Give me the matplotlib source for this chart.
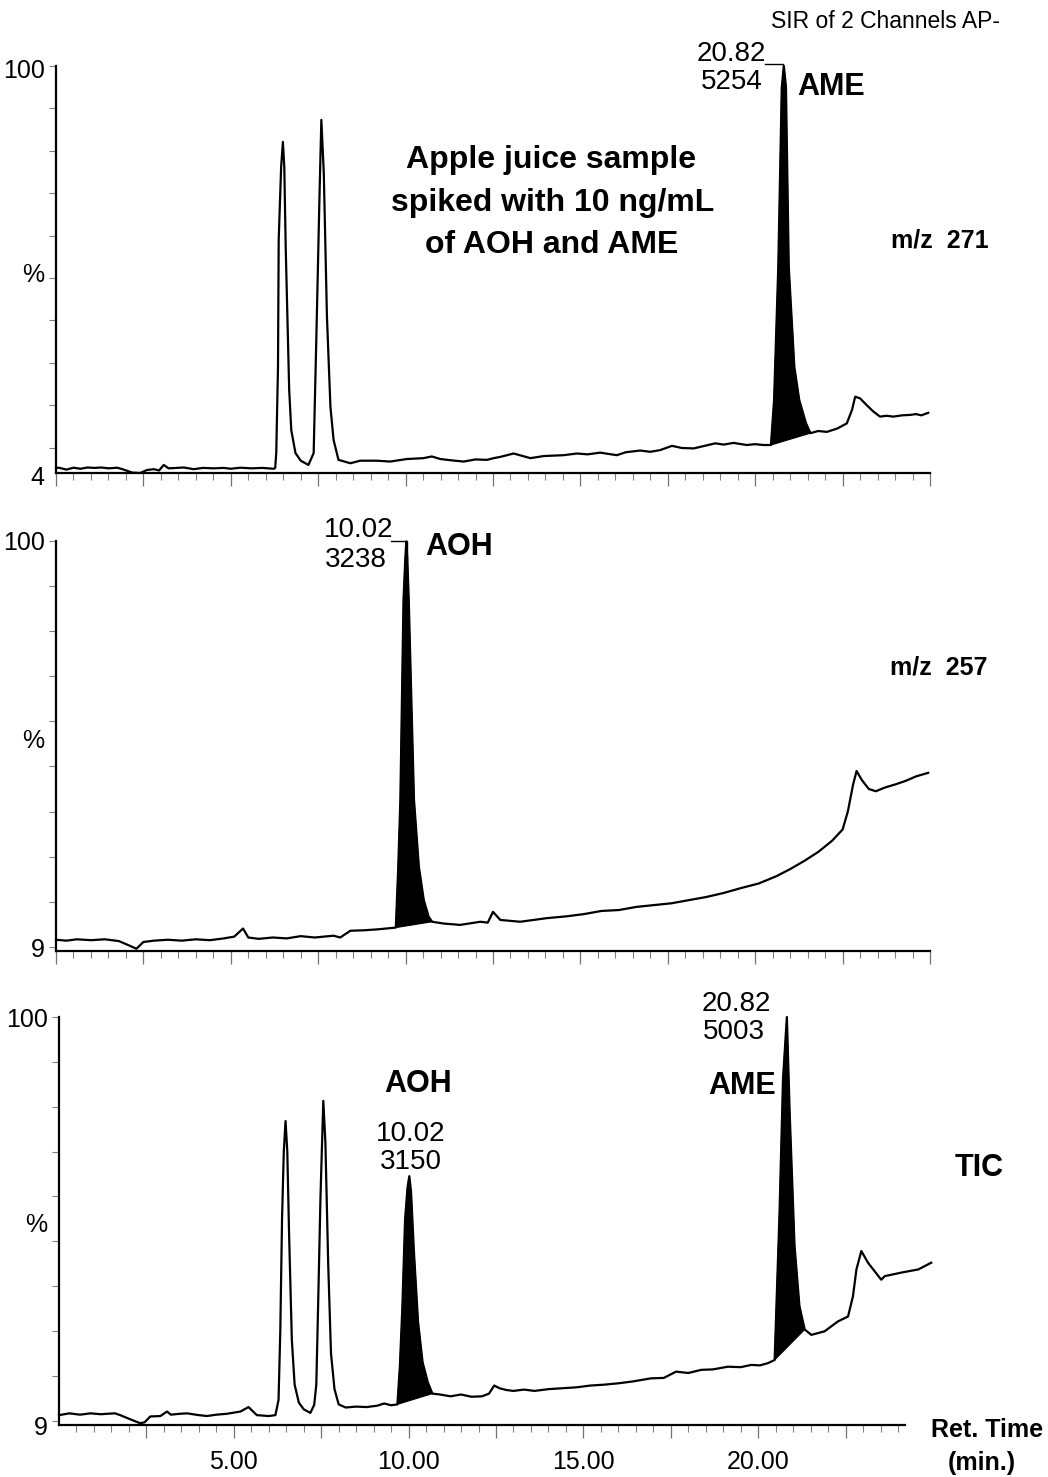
import numpy as np
import matplotlib
matplotlib.use('Agg')
from matplotlib import pyplot as plt
from matplotlib.ticker import MultipleLocator, FixedLocator

plt.rcParams['font.family'] = ['Liberation Sans', 'DejaVu Sans']

# ---- m/z 271 channel (retention time in min, intensity in %) ----
t271 = [0.0, 0.08, 0.3, 0.5, 0.7, 0.9, 1.1, 1.3, 1.5, 1.75,
        1.9, 2.18, 2.41, 2.6, 2.8, 2.95, 3.08, 3.22, 3.45, 3.65,
        3.94, 4.2, 4.5, 4.8, 5.0, 5.27, 5.6, 5.9, 6.23, 6.27,
        6.30, 6.35, 6.37, 6.44, 6.49, 6.53, 6.57, 6.67, 6.73, 6.85,
        7.0, 7.22, 7.37, 7.45, 7.53, 7.59, 7.66, 7.75, 7.85, 7.94,
        8.08, 8.42, 8.7, 9.18, 9.56, 10.04, 10.51, 10.75, 10.99, 11.3,
        11.66, 12.0, 12.33, 12.52, 12.71, 13.09, 13.57, 13.95, 14.52, 14.9,
        15.2, 15.57, 16.04, 16.3, 16.71, 17.0, 17.28, 17.62, 17.9, 18.24,
        18.5, 18.86, 19.1, 19.38, 19.76, 20.0, 20.24, 20.45, 20.54, 20.66,
        20.76, 20.82, 20.88, 20.96, 21.12, 21.26, 21.45, 21.58, 21.8, 22.05,
        22.35, 22.62, 22.77, 22.86, 23.0, 23.19, 23.38, 23.57, 23.75, 23.95,
        24.2, 24.43, 24.6, 24.75, 24.95]
v271 = [5.2, 5.25, 4.8, 5.25, 5.0, 5.3, 5.2, 5.3, 5.1, 5.25,
        4.9, 4.1, 4.0, 4.7, 4.9, 4.6, 5.9, 5.1, 5.2, 5.3,
        4.9, 5.2, 5.1, 5.2, 5.0, 5.25, 5.1, 5.2, 5.0, 5.2,
        8.7, 29.0, 59.0, 76.2, 82.1, 76.2, 57.4, 23.6, 14.1, 8.7,
        6.9, 5.9, 8.7, 37.0, 66.8, 87.3, 74.7, 40.9, 19.6, 11.8,
        7.1, 6.3, 6.9, 6.9, 6.7, 7.3, 7.5, 7.9, 7.3, 7.0,
        6.7, 7.2, 7.1, 7.5, 7.8, 8.6, 7.5, 8.0, 8.2, 8.6,
        8.4, 8.8, 8.2, 8.9, 9.3, 9.0, 9.4, 10.4, 9.9, 9.8,
        10.3, 11.0, 10.7, 11.1, 10.6, 10.8, 10.6, 10.6, 21.2, 52.6,
        95.0, 100.0, 95.0, 52.6, 29.0, 21.2, 15.8, 13.4, 13.9, 13.7,
        14.5, 15.7, 18.9, 22.0, 21.6, 20.0, 18.5, 17.3, 17.5, 17.3,
        17.6, 17.7, 17.9, 17.6, 18.2]

# ---- m/z 257 channel ----
t257 = [0.0, 0.3, 0.6, 1.0, 1.4, 1.8, 2.1, 2.3, 2.5, 2.8,
        3.2, 3.6, 4.0, 4.4, 4.8, 5.1, 5.35, 5.5, 5.8, 6.2,
        6.6, 7.0, 7.4, 7.94, 8.13, 8.42, 8.8, 9.18, 9.45, 9.72,
        9.79, 9.85, 9.94, 9.99, 10.02, 10.05, 10.09, 10.24, 10.38, 10.52,
        10.66, 10.76, 11.09, 11.56, 12.14, 12.35, 12.5, 12.71, 13.28, 14.04,
        14.6, 15.1, 15.6, 16.1, 16.6, 17.1, 17.6, 18.1, 18.6, 19.1,
        19.6, 20.1, 20.6, 21.0, 21.4, 21.8, 22.2, 22.5, 22.65, 22.8,
        22.9, 23.05, 23.25, 23.45, 23.7, 24.0, 24.3, 24.6, 24.95]
v257 = [11.5, 11.3, 11.6, 11.4, 11.6, 11.2, 10.2, 9.5, 11.0, 11.3,
        11.5, 11.3, 11.6, 11.4, 11.8, 12.2, 14.0, 12.0, 11.7, 12.0,
        11.8, 12.3, 12.0, 12.4, 12.0, 13.5, 13.6, 13.8, 14.0, 14.2,
        27.7, 42.6, 87.0, 96.0, 100.0, 96.0, 87.0, 42.6, 27.7, 20.3,
        16.6, 15.5, 15.1, 14.8, 15.5, 15.3, 17.7, 15.9, 15.5, 16.3,
        16.7, 17.2, 17.9, 18.1, 18.8, 19.2, 19.6, 20.3, 21.0, 21.9,
        23.0, 24.0, 25.6, 27.2, 29.0, 31.0, 33.5, 36.0, 40.0, 46.0,
        49.0, 47.0, 45.0, 44.5, 45.3, 46.0, 46.8, 47.8, 48.6]

# ---- TIC ----
ttic = [0.0, 0.3, 0.6, 0.9, 1.2, 1.37, 1.6, 1.75, 2.03, 2.32,
        2.45, 2.61, 2.9, 3.09, 3.2, 3.45, 3.66, 4.0, 4.23, 4.5,
        4.8, 5.19, 5.42, 5.66, 6.0, 6.19, 6.28, 6.33, 6.38, 6.43,
        6.48, 6.53, 6.58, 6.66, 6.74, 6.86, 7.0, 7.19, 7.3, 7.36,
        7.41, 7.48, 7.56, 7.62, 7.70, 7.78, 7.88, 8.0, 8.2, 8.5,
        8.8, 9.1, 9.3, 9.5, 9.68, 9.75, 9.82, 9.9, 9.97, 10.02,
        10.07, 10.15, 10.27, 10.4, 10.55, 10.68, 10.9, 11.2, 11.5, 11.8,
        12.1, 12.3, 12.45, 12.6, 12.8, 13.0, 13.3, 13.6, 14.0, 14.4,
        14.8, 15.2, 15.6, 16.0, 16.4, 16.93, 17.3, 17.55, 17.65, 18.0,
        18.37, 18.7, 19.13, 19.5, 19.8, 20.05, 20.28, 20.47, 20.61, 20.71,
        20.82, 20.90, 21.04, 21.18, 21.33, 21.52, 21.9, 22.28, 22.57, 22.71,
        22.81, 22.95, 23.14, 23.52, 23.62, 24.1, 24.58, 24.95]
vtic = [11.2, 11.6, 11.3, 11.6, 11.4, 11.5, 11.6, 11.2, 10.3, 9.4,
        9.6, 10.9, 11.0, 12.0, 11.3, 11.5, 11.6, 11.2, 11.0, 11.3,
        11.5, 12.0, 13.0, 11.2, 11.0, 11.2, 14.6, 30.0, 55.0, 70.0,
        76.8, 70.0, 52.0, 28.0, 18.0, 14.0, 12.5, 11.7, 13.5, 18.0,
        35.0, 60.0, 81.3, 72.0, 45.0, 25.0, 17.0, 13.6, 12.9, 13.1,
        13.0, 13.3, 13.8, 13.4, 13.6, 22.0, 35.0, 55.0, 62.0, 64.5,
        61.0, 48.0, 32.0, 23.0, 18.5, 16.0, 15.8, 15.4, 15.8, 15.3,
        15.4, 16.0, 17.8, 17.2, 16.8, 16.6, 16.9, 16.6, 17.0, 17.2,
        17.4, 17.8, 18.0, 18.3, 18.7, 19.4, 19.5, 20.5, 20.9, 20.6,
        21.3, 21.4, 22.0, 21.9, 22.4, 22.3, 22.8, 23.5, 56.3, 86.2,
        100.0, 78.7, 48.9, 35.5, 30.3, 29.1, 29.9, 32.1, 33.2, 37.7,
        43.7, 47.8, 45.2, 41.4, 42.2, 43.0, 43.7, 45.2]

# integrated peaks (start, end) per trace
peaks271 = [(20.45, 21.58)]
peaks257 = [(9.72, 10.76)]
peakstic = [(9.68, 10.68), (20.47, 21.33)]

W, H = 1048, 1477
fig = plt.figure(figsize=(W / 100, H / 100), dpi=100)


def add_panel(left, top, bottom, ymin):
    ax = fig.add_axes([left / W, 1 - bottom / H, 874 / W, (bottom - top) / H])
    ax.set_xlim(0, 25)
    ax.set_ylim(ymin, 100)
    for s in ['top', 'right']:
        ax.spines[s].set_visible(False)
    for s in ['left', 'bottom']:
        ax.spines[s].set_linewidth(1.6)
    ax.set_yticks(np.arange(10, 101, 10))
    ax.tick_params(axis='y', length=5, width=0.8, color='0.5', labelleft=False)
    ax.xaxis.set_major_locator(MultipleLocator(2.5))
    ax.xaxis.set_minor_locator(MultipleLocator(0.5))
    ax.tick_params(axis='x', which='major', length=9, width=0.9, color='0.45', labelbottom=False)
    ax.tick_params(axis='x', which='minor', length=5, width=0.8, color='0.5')
    return ax


def draw_trace(ax, t, v, peaks):
    t = np.array(t)
    v = np.array(v)
    ax.plot(t, v, color='k', lw=1.6, clip_on=False)
    for a, b in peaks:
        m = (t >= a) & (t <= b)
        ax.fill(t[m], v[m], color='k', lw=0.8)


def ylabels(ax, top_y, pct_y, bot_y, bot_txt):
    tr = ax.get_yaxis_transform()
    kw = dict(transform=tr, ha='right', va='center', fontsize=18)
    ax.text(-0.013, top_y, '100', **kw)
    ax.text(-0.013, pct_y, '%', **kw)
    ax.text(-0.013, bot_y, bot_txt, **kw)


def ftext(x, y, s, **kw):
    fig.text(x / W, 1 - y / H, s, ha='center', va='center', **kw)


# panel 1: m/z 271
ax1 = add_panel(56, 66, 473, 4)
draw_trace(ax1, t271, v271, peaks271)
ylabels(ax1, 98.8, 50.7, 2.8, '4')
ax1.plot([20.27, 20.79, 20.79], [100.5, 100.5, 95], color='k', lw=1, clip_on=False)
ax1.text(19.31, 102.8, '20.82', ha='center', va='center', fontsize=20)
ax1.text(19.33, 96.2, '5254', ha='center', va='center', fontsize=20)
ax1.text(21.2, 95, 'AME', ha='left', va='center', fontsize=22, fontweight='bold')

# panel 2: m/z 257
ax2 = add_panel(56, 541.5, 951, 9)
draw_trace(ax2, t257, v257, peaks257)
ylabels(ax2, 99.7, 55.7, 9.2, '9')
ax2.plot([9.57, 10.05, 10.05], [100.2, 100.2, 95.9], color='k', lw=1, clip_on=False)
ax2.text(8.65, 102.6, '10.02', ha='center', va='center', fontsize=20)
ax2.text(8.58, 95.9, '3238', ha='center', va='center', fontsize=20)
ax2.text(11.53, 98.8, 'AOH', ha='center', va='center', fontsize=22, fontweight='bold')

# panel 3: TIC
ax3 = add_panel(59, 1017, 1425, 9)
draw_trace(ax3, ttic, vtic, peakstic)
ylabels(ax3, 99.4, 53.5, 8.3, '9')
ax3.spines['bottom'].set_bounds(0, 24.2)
ax3.xaxis.set_major_locator(FixedLocator(np.arange(2.5, 24.1, 2.5)))
ax3.xaxis.set_minor_locator(FixedLocator(np.arange(0.5, 24.1, 0.5)))
ax3.set_xticklabels(['' if x % 5 else '%.2f' % x for x in np.arange(2.5, 24.1, 2.5)])
ax3.tick_params(axis='x', which='major', labelbottom=True, labelsize=18, pad=9)
ax3.text(19.37, 103.0, '20.82', ha='center', va='center', fontsize=20)
ax3.text(19.31, 96.7, '5003', ha='center', va='center', fontsize=20)
ax3.text(19.54, 84.6, 'AME', ha='center', va='center', fontsize=22, fontweight='bold')
ax3.text(10.27, 85.1, 'AOH', ha='center', va='center', fontsize=22, fontweight='bold')
ax3.text(10.06, 73.9, '10.02', ha='center', va='center', fontsize=20)
ax3.text(10.06, 67.6, '3150', ha='center', va='center', fontsize=20)

# side labels and header
fig.text(1000 / W, 1 - 22 / H, 'SIR of 2 Channels AP-', ha='right', va='center', fontsize=16.5)
ftext(551, 160, 'Apple juice sample', fontsize=23, fontweight='bold')
ftext(553, 203, 'spiked with 10 ng/mL', fontsize=23, fontweight='bold')
ftext(552, 245, 'of AOH and AME', fontsize=23, fontweight='bold')
ftext(940, 241, 'm/z  271', fontsize=18, fontweight='bold')
ftext(939, 668, 'm/z  257', fontsize=18, fontweight='bold')
ftext(979, 1168, 'TIC', fontsize=22, fontweight='bold')
ftext(987, 1430, 'Ret. Time', fontsize=18, fontweight='bold')
ftext(982, 1463, '(min.)', fontsize=18, fontweight='bold')

fig.savefig('out.png', dpi=100)
